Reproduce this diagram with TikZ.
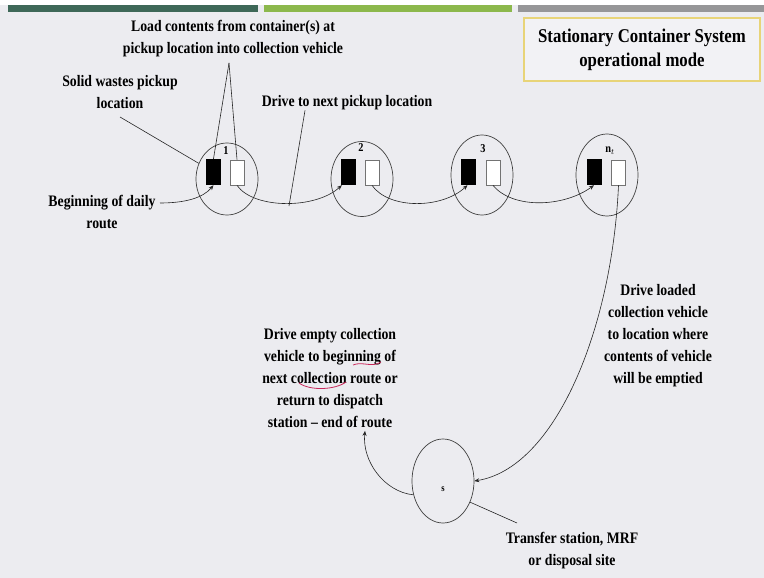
\documentclass[tikz,border=0pt]{standalone}
\usepackage{fontspec}
\setmainfont{Liberation Serif}[FakeStretch=0.86]
\usetikzlibrary{shapes.geometric,arrows.meta}
\definecolor{slidebg}{RGB}{236,236,240}
\definecolor{bardark}{RGB}{62,104,88}
\definecolor{barlight}{RGB}{140,184,76}
\definecolor{bargray}{RGB}{150,150,152}
\definecolor{titleline}{RGB}{232,212,120}
\definecolor{titlefill}{RGB}{242,242,245}
\definecolor{penmark}{RGB}{200,40,90}

\begin{document}
\begin{tikzpicture}[x=1pt,y=-1pt,
  txt/.style={font=\bfseries\fontsize{16}{22}\selectfont, align=center, inner sep=0pt},
  num/.style={font=\bfseries\fontsize{12}{12}\selectfont, inner sep=0pt},
  pickup/.style={draw=black!75, line width=0.7pt, ellipse, minimum width=62pt, inner sep=0pt},
  fullbin/.style={fill=black, minimum width=15pt, minimum height=26pt, inner sep=0pt},
  emptybin/.style={draw=black!55, fill=white, line width=0.8pt, minimum width=14pt, minimum height=25pt, inner sep=0pt},
  lead/.style={line width=0.6pt, draw=black!85},
  trip/.style={lead, -{Stealth[length=5pt,width=4pt]}}]
\useasboundingbox (0,0) rectangle (764,578);
\fill[slidebg] (0,0) rectangle (764,578);
\fill[white] (0,0) rectangle (764,5);
% bars on top of the slide
\fill[bardark] (8,5) rectangle (258,12);
\fill[barlight] (264,5) rectangle (512,12);
\fill[bargray] (518,5) rectangle (764,12);

\node[draw=titleline, line width=2pt, fill=titlefill, minimum width=236pt, minimum height=63pt,
  font=\bfseries\fontsize{19.5}{24}\selectfont, align=center] (title) at (642,50) {Stationary Container System\\operational mode};

% pickup locations
\node[pickup, minimum height=72pt] (p1) at (227,179) {};
\node[pickup, minimum height=75pt] (p2) at (362,179) {};
\node[pickup, minimum height=80pt] (p3) at (482,175) {};
\node[pickup, minimum height=82pt] (pn) at (607,175) {};
\node[pickup, minimum height=84pt] (s) at (443,481) {};

\node[fullbin] (b1) at (213.5,172) {};
\node[emptybin] (w1) at (237,172.5) {};
\node[fullbin] (b2) at (348.5,172) {};
\node[emptybin] (w2) at (372,172.5) {};
\node[fullbin] (b3) at (468.5,172) {};
\node[emptybin] (w3) at (493,172.5) {};
\node[fullbin] (bn) at (594,172) {};
\node[emptybin] (wn) at (618.5,172.5) {};

\node[num] (n1) at (226,151) {1};
\node[num] (n2) at (361,148) {2};
\node[num] (n3) at (483,149) {3};
\node[num] (nn) at (610,151) {n$_{t}$};
\node[num, font=\bfseries\fontsize{10}{10}\selectfont] (ns) at (443,489) {s};

% labels
\node[txt] (load) at (233,39) {Load contents from container(s) at\\pickup location into collection vehicle};
\node[txt] (swaste) at (120,92) {Solid wastes pickup\\location};
\node[txt] (dnext) at (347,103) {Drive to next pickup location};
\node[txt] (begin) at (102,212) {Beginning of daily\\route};
\node[txt] (dloaded) at (658,336) {Drive loaded\\collection vehicle\\to location where\\contents of vehicle\\will be emptied};
\node[txt] (dempty) at (330,378) {Drive empty collection\\vehicle to beginning of\\next collection route or\\return to dispatch\\station -- end of route};
\node[txt] (tsite) at (572,551) {Transfer station, MRF\\or disposal site};

\coordinate (ld) at (229,63);
\coordinate (sw) at (120,117);
\coordinate (bg) at (160,203);
\coordinate (dv) at (289,206);
\coordinate (ts) at (517,523);

% leader lines
\draw[lead] (ld) -- (b1.north);
\draw[lead] (ld) -- (w1.north);
\draw[lead] (sw) -- (p1.151);
\draw[lead] ([xshift=-42pt]dnext.south) -- (dv);
\draw[lead] (s.-38) -- (ts);

% route of the vehicle
\draw[trip] (bg) .. controls (185,203) and (203,198) .. (b1.south);
\draw[trip] (w1.south) .. controls +(17,24) and +(-26,24) .. ([xshift=1pt]b2.south west);
\draw[trip] (w2.south) .. controls +(17,24) and +(-26,24) .. ([xshift=-1pt]b3.south);
\draw[trip] (w3.south) .. controls +(20,24) and +(-30,22) .. (bn.south);
\draw[trip] (wn.south) .. controls (612,330) and (555,468) .. (s.east);
\draw[trip] (s.205) .. controls (385,492) and (362,462) .. ([xshift=35pt,yshift=-3pt]dempty.south);

% pen marks
\draw[penmark, line width=0.8pt] (353,365) .. controls (362,361) and (372,368) .. (381,362);
\draw[penmark, line width=0.8pt] (299,383) .. controls (310,391) and (335,390) .. (346,382);
\end{tikzpicture}
\end{document}
